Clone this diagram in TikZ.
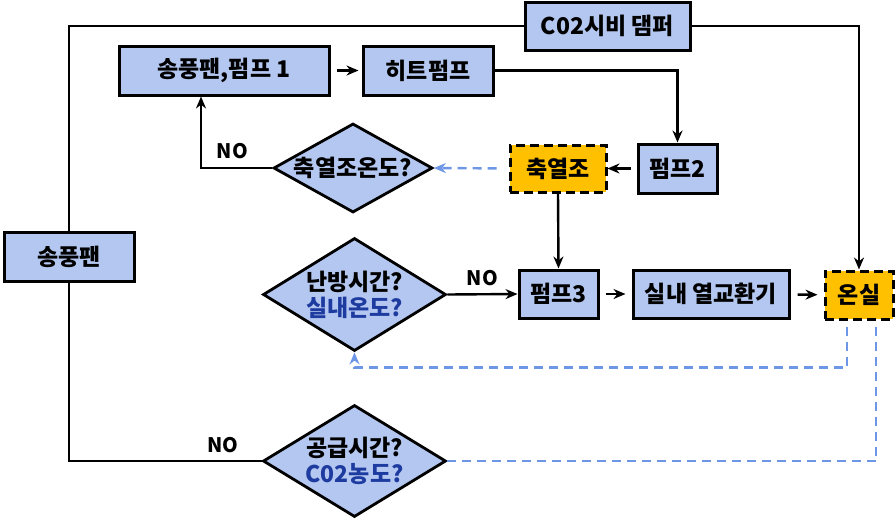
\documentclass[tikz,border=0pt]{standalone}
\usepackage{fontspec}
\setmainfont{Noto Sans CJK KR}
\usetikzlibrary{shapes.geometric,arrows.meta}

\definecolor{boxblue}{RGB}{180,199,240}
\definecolor{tankorange}{RGB}{255,192,0}
\definecolor{dashblue}{RGB}{110,150,230}
\definecolor{textblue}{RGB}{30,60,160}

\tikzset{
  blok/.style={draw, line width=3pt, fill=boxblue, inner sep=0pt,
    font=\bfseries\fontsize{23}{25}\selectfont},
  tank/.style={blok, fill=tankorange, dash pattern=on 9pt off 5pt},
  keuze/.style={diamond, draw, line width=2.8pt, fill=boxblue, inner sep=0pt},
  keuzetxt/.style={align=center, inner sep=0pt,
    font=\bfseries\fontsize{23}{26}\selectfont},
  lijn/.style={line width=2.4pt},
  pijl/.style={lijn, -{Stealth[length=12pt,width=10pt]}},
  stip/.style={line width=2.4pt, draw=dashblue, dash pattern=on 9pt off 6pt},
  stippijl/.style={stip, -{Stealth[length=12pt,width=10pt]}, color=dashblue},
  nee/.style={font=\bfseries\fontsize{20}{22}\selectfont}
}

\begin{document}
\begin{tikzpicture}[x=1pt,y=-1pt]
  \useasboundingbox (0,0) rectangle (896,520);

  % nodes
  \node[blok, minimum width=210pt, minimum height=49pt] (fanpump) at (224,70.5) {송풍팬,펌프 1};
  \node[blok, minimum width=130pt, minimum height=49pt] (heatpump) at (428,70.5) {히트펌프};
  \node[blok, minimum width=165pt, minimum height=48pt] (damper) at (607.5,26) {C02시비 댐퍼};
  \node[blok, minimum width=79pt, minimum height=49pt] (pump2) at (677.5,168.5) {펌프2};
  \node[tank, minimum width=96pt, minimum height=47pt] (tank) at (558,168.5) {축열조};
  \node[keuze, minimum width=159pt, minimum height=89pt] (qtank) at (353,168) {};
  \node[keuzetxt] (qtanktxt) at (qtank) {축열조온도?};
  \node[blok, minimum width=130pt, minimum height=49pt] (fan) at (69,256.5) {송풍팬};
  \node[blok, minimum width=79pt, minimum height=48pt] (pump3) at (558.5,294) {펌프3};
  \node[blok, minimum width=156pt, minimum height=48pt] (hex) at (711,294) {실내 열교환기};
  \node[tank, minimum width=68pt, minimum height=48pt] (house) at (859,295) {온실};
  \node[keuze, minimum width=183pt, minimum height=113pt] (qheat) at (354.5,294.5) {};
  \node[keuzetxt] (qheattxt) at (qheat) {난방시간?\\\textcolor{textblue}{실내온도?}};
  \node[keuze, minimum width=183pt, minimum height=112pt] (qsupply) at (354.5,461) {};
  \node[keuzetxt] (qsupplytxt) at (qsupply) {공급시간?\\\textcolor{textblue}{C02농도?}};

  % connectors
  \draw[pijl, shorten <=6pt, shorten >=3pt] (fanpump) -- (heatpump);
  \draw[pijl] (heatpump.east) -| (pump2.north);
  \draw[pijl, shorten <=6pt] (pump2) -- (tank);
  \draw[stippijl, shorten <=12pt] (tank.west) -- (qtank.east);
  \draw[pijl] (qtank.west) -| ([xshift=-23pt]fanpump.south)
    node[nee, pos=0.28, above=5pt] (no1) {NO};
  \draw[pijl] (tank.south) -- (pump3.north);
  \draw[pijl, shorten <=6pt, shorten >=6pt] (pump3) -- (hex);
  \draw[pijl, shorten <=7pt, shorten >=6pt] (hex) -- (house);
  \draw[lijn] (fan.north) |- (damper.west);
  \draw[pijl] (damper.east) -| (house.north);
  \draw[lijn] (fan.south) |- (qsupply.west)
    node[nee, pos=0.9, above=4pt] (no3) {NO};
  \draw[pijl] (qheat.east) -- (pump3.west)
    node[nee, midway, above=4pt] (no2) {NO};
  \draw[stippijl, shorten <=6pt] ([xshift=-12pt]house.south) -- ++(0,47) -| (qheat.south);
  \draw[stip, shorten <=6pt] ([xshift=17pt]house.south) |- (qsupply.east);
\end{tikzpicture}
\end{document}
